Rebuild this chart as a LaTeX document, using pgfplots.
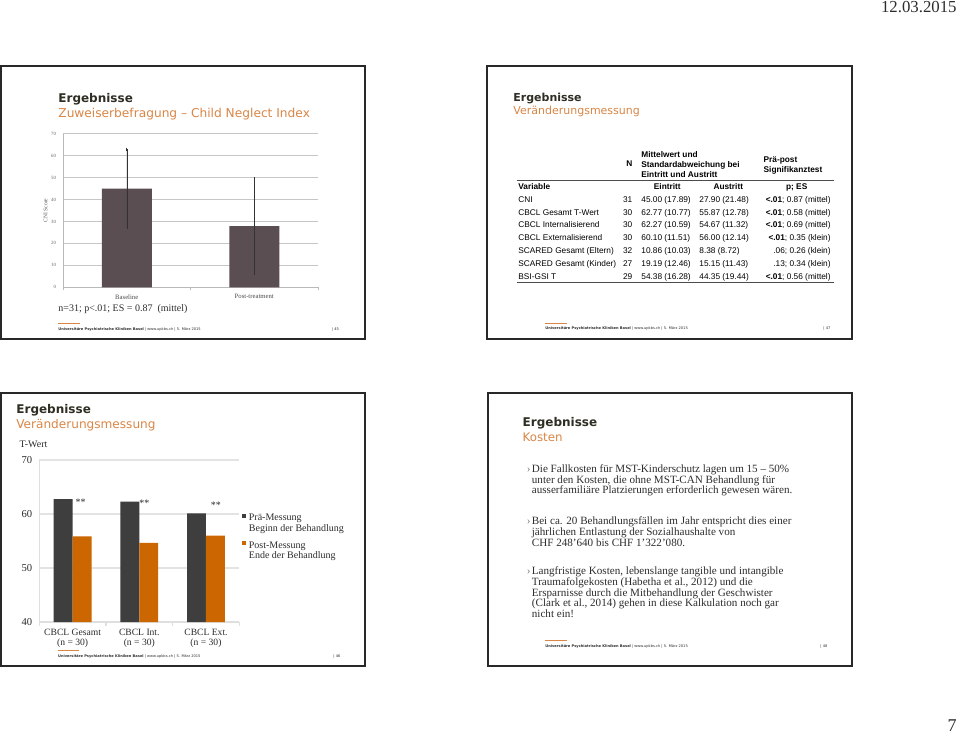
\documentclass[border=0pt]{standalone}
\usepackage{pgfplots}
\pgfplotsset{compat=1.18}
\usepackage{fontspec}
\setmainfont{Liberation Serif}
\newfontfamily\titlefont{DejaVu Sans}
\newfontfamily\tabfont{Liberation Sans}
\definecolor{ttl}{RGB}{46,46,36}
\definecolor{sub}{RGB}{217,134,70}
\definecolor{cnibar}{RGB}{90,78,82}
\definecolor{dk}{RGB}{62,62,62}
\definecolor{org}{RGB}{204,102,0}
\definecolor{txt}{RGB}{45,45,45}
\definecolor{frm}{RGB}{40,40,40}
\newcommand\fsz[2]{\fontsize{#1}{#2}\selectfont}
\newcommand\footer[4]{% x, line y, text y
  \draw[sub, line width=0.5pt] (#1,#2) -- ++(21.5,0);
  \node[anchor=base west, font=\titlefont\fsz{1.8}{2}, text=txt] at (#1,#3) {\textbf{Universitäre Psychiatrische Kliniken Basel} | www.upkbs.ch | 5. März 2015};
}
\newcommand\trow[6]{%
  \node[anchor=base west] at (518,#1) {#2};
  \node[anchor=base east] at (632.7,#1) {#3};
  \node[anchor=base west] at (641,#1) {#4};
  \node[anchor=base west] at (699,#1) {#5};
  \node[anchor=base east] at (831,#1) {#6};
}
\begin{document}
\begin{tikzpicture}[x=0.5pt,y=-0.5pt]
\fill[white] (0,0) rectangle (960,738);
\useasboundingbox (0,0) rectangle (960,738);
% frames
\draw[frm, line width=0.8pt] (1,66) rectangle (365,339);
\draw[frm, line width=0.8pt] (487,66) rectangle (852,339);
\draw[frm, line width=0.8pt] (1,393) rectangle (365,666);
\draw[frm, line width=0.8pt] (488,393) rectangle (852,666);

\begin{scope}[every node/.style={inner sep=0pt}]
% date and page
\node[anchor=base east, font=\fsz{8.4}{9}, text=txt] at (957,12.5) {12.03.2015};
\node[anchor=base east, font=\fsz{9}{10}, text=txt] at (957,731) {7};
% ---- slide 1 titles
\node[anchor=base west, font=\titlefont\bfseries\fsz{6}{7}, text=ttl] at (58,102.7) {Ergebnisse};
\node[anchor=base west, font=\titlefont\fsz{6.1}{7}, text=sub] at (58,118) {Zuweiserbefragung – Child Neglect Index};
\node[anchor=base west, font=\fsz{5}{6}, text=txt] at (58,311.5) {n=31; p<.01; ES = 0.87~ (mittel)};
\footer{58}{323.3}{330.3}{}
\node[anchor=base west, font=\titlefont\fsz{1.8}{2}, text=txt] at (331.7,330.3) {| 45};
% ---- slide 2
\node[anchor=base west, font=\titlefont\bfseries\fsz{5.5}{6}, text=ttl] at (513,101.7) {Ergebnisse};
\node[anchor=base west, font=\titlefont\fsz{5.5}{6}, text=sub] at (513,115) {Veränderungsmessung};
\footer{545}{323.3}{329.5}{}
\node[anchor=base west, font=\titlefont\fsz{1.8}{2}, text=txt] at (823,329.5) {| 47};
\begin{scope}[every node/.append style={font=\tabfont\fsz{4.15}{5}, text=black}]
\node[anchor=base east, font=\tabfont\bfseries\fsz{4.15}{5}] at (632.7,167) {N};
\node[anchor=base west, font=\tabfont\bfseries\fsz{4.15}{5}] at (641,158) {Mittelwert und};
\node[anchor=base west, font=\tabfont\bfseries\fsz{4.15}{5}] at (641,168) {Standardabweichung bei};
\node[anchor=base west, font=\tabfont\bfseries\fsz{4.15}{5}] at (641,177.3) {Eintritt und Austritt};
\node[anchor=base west, font=\tabfont\bfseries\fsz{4.15}{5}] at (763.3,162.3) {Prä-post};
\node[anchor=base west, font=\tabfont\bfseries\fsz{4.15}{5}] at (763.3,172.3) {Signifikanztest};
\node[anchor=base west, font=\tabfont\bfseries\fsz{4.15}{5}] at (518,190) {Variable};
\node[anchor=base, font=\tabfont\bfseries\fsz{4.15}{5}] at (667.3,190) {Eintritt};
\node[anchor=base, font=\tabfont\bfseries\fsz{4.15}{5}] at (728.3,190) {Austritt};
\node[anchor=base, font=\tabfont\bfseries\fsz{4.15}{5}] at (796.7,190) {p; ES};
\trow{202.3}{CNI}{31}{45.00 (17.89)}{27.90 (21.48)}{\textbf{<.01}; 0.87 (mittel)}
\trow{215.1}{CBCL Gesamt T-Wert}{30}{62.77 (10.77)}{55.87 (12.78)}{\textbf{<.01}; 0.58 (mittel)}
\trow{227.9}{CBCL Internalisierend}{30}{62.27 (10.59)}{54.67 (11.32)}{\textbf{<.01}; 0.69 (mittel)}
\trow{240.7}{CBCL Externalisierend}{30}{60.10 (11.51)}{56.00 (12.14)}{\textbf{<.01}; 0.35 (klein)}
\trow{253.5}{SCARED Gesamt (Eltern)}{32}{10.86 (10.03)}{8.38 (8.72)}{.06; 0.26 (klein)}
\trow{266.3}{SCARED Gesamt (Kinder)}{27}{19.19 (12.46)}{15.15 (11.43)}{.13; 0.34 (klein)}
\trow{279.1}{BSI-GSI T}{29}{54.38 (16.28)}{44.35 (19.44)}{\textbf{<.01}; 0.56 (mittel)}
\end{scope}
\draw[black!70, line width=0.4pt] (517,180.3) -- (834,180.3);
\draw[black!70, line width=0.4pt] (517,282.7) -- (834,282.7);
% ---- slide 3
\node[anchor=base west, font=\titlefont\bfseries\fsz{6}{7}, text=ttl] at (16,413.5) {Ergebnisse};
\node[anchor=base west, font=\titlefont\fsz{6.05}{7}, text=sub] at (16,428.3) {Veränderungsmessung};
\node[anchor=base west, font=\fsz{5}{6}, text=txt] at (19.3,447.7) {T-Wert};
\footer{57.7}{650.3}{657}{}
\node[anchor=base west, font=\titlefont\fsz{1.8}{2}, text=txt] at (333,657) {| 46};
% ---- slide 4
\node[anchor=base west, font=\titlefont\bfseries\fsz{6}{7}, text=ttl] at (522.3,426.7) {Ergebnisse};
\node[anchor=base west, font=\titlefont\fsz{5.9}{7}, text=sub] at (522.3,441) {Kosten};
\begin{scope}[every node/.append style={anchor=base west, font=\fsz{5.55}{6}, text=txt}]
\foreach \yy in {472.3,524.7,574.7} {\node[text=gray] at (526.5,\yy) {›};}
\node at (531.5,472.3) {Die Fallkosten für MST-Kinderschutz lagen um 15 – 50\%};
\node at (531.5,483.0) {unter den Kosten, die ohne MST-CAN Behandlung für};
\node at (531.5,493.7) {ausserfamiliäre Platzierungen erforderlich gewesen wären.};
\node at (531.5,524.7) {Bei ca. 20 Behandlungsfällen im Jahr entspricht dies einer};
\node at (531.5,535.4) {jährlichen Entlastung der Sozialhaushalte von};
\node at (531.5,546.1) {CHF 248'640 bis CHF 1'322'080.};
\node at (531.5,574.7) {Langfristige Kosten, lebenslange tangible und intangible};
\node at (531.5,585.4) {Traumafolgekosten (Habetha et al., 2012) und die};
\node at (531.5,596.1) {Ersparnisse durch die Mitbehandlung der Geschwister};
\node at (531.5,606.8) {(Clark et al., 2014) gehen in diese Kalkulation noch gar};
\node at (531.5,617.5) {nicht ein!};
\end{scope}
\footer{545}{640.7}{647.5}{}
\node[anchor=base west, font=\titlefont\fsz{1.8}{2}, text=txt] at (820,647.5) {| 48};
\end{scope}

% ---- axis slide 1
\coordinate (A1) at (63,287.3);
\begin{axis}[at={(A1)}, anchor=south west, scale only axis,
  width=127.5pt, height=76.8pt,
  xmin=-0.5, xmax=1.5, ymin=0, ymax=70,
  axis x line*=bottom, axis y line*=left,
  axis line style={gray!55, line width=0.4pt},
  ytick={0,10,...,70}, ymajorgrids,
  grid style={gray!45, line width=0.35pt},
  /pgf/number format/assume math mode=true,
  yticklabel style={font=\fsz{2.4}{3}, text=gray!80!black},
  xtick={0,1}, xticklabels={Baseline,Post-treatment},
  xticklabel style={font=\fsz{3.35}{4}, text=gray!60!black},
  major tick length=0pt, minor xtick={-0.5,0.5,1.5}, minor tick length=1.6pt,
  minor tick style={gray!55, line width=0.4pt}, tick align=outside,
  ylabel={CNI Score}, ylabel shift=-5pt,
  ylabel style={font=\fsz{2.8}{3}, text=gray!70!black},
]
\addplot[ybar, bar width=25pt, fill=cnibar, draw=none,
  error bars/.cd, y dir=both, y explicit,
  error bar style={line width=0.25pt, black!80},
  error mark options={line width=0.25pt, mark size=0.8pt, black!80}]
  coordinates {(0,45) +- (0,17.89) (1,27.9) +- (0,21.48)};
\end{axis}

% ---- axis slide 3
\coordinate (A3) at (39.3,622);
\begin{axis}[at={(A3)}, anchor=south west, scale only axis,
  width=100pt, height=81pt,
  xmin=-0.5, xmax=2.5, ymin=40, ymax=70,
  ybar=0pt, bar width=9.45pt,
  axis x line*=bottom, axis y line*=left,
  axis line style={gray!25, line width=0.6pt},
  ytick={40,50,60,70}, ymajorgrids,
  grid style={gray!22, line width=0.6pt},
  /pgf/number format/assume math mode=true,
  yticklabel style={font=\fsz{5.3}{6}, text=txt},
  xtick={0,1,2},
  xticklabels={{CBCL Gesamt\\(n = 30)},{CBCL Int.\\(n = 30)},{CBCL Ext.\\(n = 30)}},
  xticklabel style={font=\fsz{4.8}{5.2}, align=center, text=txt},
  major tick length=0pt, minor xtick={-0.5,0.5,1.5,2.5}, minor tick length=2pt,
  minor tick style={gray!25, line width=0.6pt}, tick align=outside,
  legend style={at={(1.011,0.674)}, anchor=north west, draw=none, fill=none,
    inner sep=0pt, font=\fsz{5}{5.35}, text=txt, row sep=8.5pt,
    nodes={inner sep=0pt},
    /tikz/every odd column/.append style={column sep=1.4pt}},
  legend cell align=left,
]
\addplot[fill=dk, draw=none, legend image code/.code={\fill[dk] (0pt,0.3pt) rectangle (2.1pt,2.4pt);}]
  coordinates {(0,62.77) (1,62.27) (2,60.10)};
\addplot[fill=org, draw=none, legend image code/.code={\fill[org] (0pt,0.3pt) rectangle (2.1pt,2.4pt);}]
  coordinates {(0,55.87) (1,54.67) (2,56.00)};
\legend{{\begin{tabular}[t]{@{}l@{}}Prä-Messung\\Beginn der Behandlung\end{tabular}},
        {\begin{tabular}[t]{@{}l@{}}Post-Messung\\Ende der Behandlung\end{tabular}}}
\node[anchor=base, font=\fsz{5}{6}, text=txt] at (axis cs:0.12,61.6) {**};
\node[anchor=base, font=\fsz{5}{6}, text=txt] at (axis cs:1.075,61.45) {**};
\node[anchor=base, font=\fsz{5}{6}, text=txt] at (axis cs:2.15,61.0) {**};
\end{axis}
\end{tikzpicture}
\end{document}
